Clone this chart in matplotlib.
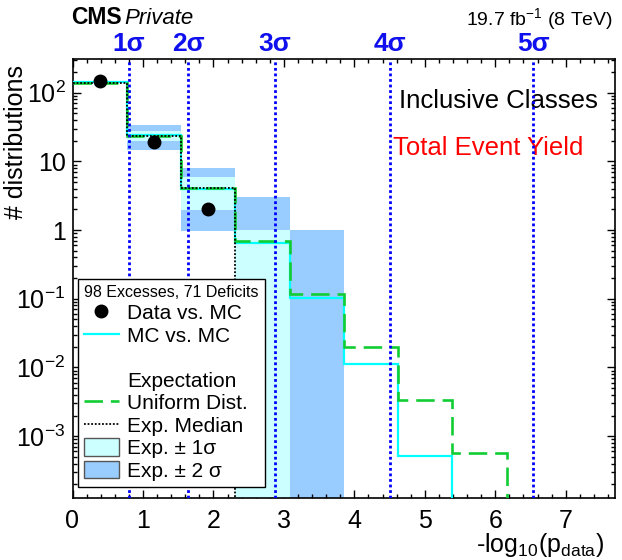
import numpy as np
import matplotlib
matplotlib.use("Agg")
import matplotlib.pyplot as plt
from matplotlib.lines import Line2D
from matplotlib.patches import Patch
from matplotlib.ticker import LogLocator, NullFormatter, MultipleLocator

plt.rcParams["font.family"] = ["Liberation Sans", "DejaVu Sans"]
plt.rcParams["mathtext.fontset"] = "custom"
plt.rcParams["mathtext.rm"] = "Liberation Sans"
plt.rcParams["mathtext.it"] = "Liberation Sans:italic"
plt.rcParams["mathtext.bf"] = "Liberation Sans:bold"
plt.rcParams["mathtext.default"] = "regular"

# -log10(p) binning
edges = [0.0, 0.77, 1.54, 2.31, 3.08, 3.85, 4.62, 5.39, 6.16, 6.93, 7.7]

# number of distributions per bin
data_counts = [148, 19, 2, 0, 0, 0, 0, 0, 0, 0]
mc_counts = [141, 24, 3.9, 0.64, 0.101, 0.0113, 0.00051, 0, 0, 0]
uniform_exp = [140, 23.8, 4.05, 0.687, 0.117, 0.0198, 0.0034, 0.00057, 0.0001, 0.000017]
exp_median = [140, 23.8, 4.05, 0, 0, 0, 0, 0, 0, 0]

# expectation bands
band1_lo = [140, 19.5, 1.95, 0, 0, 0, 0, 0, 0, 0]
band1_hi = [140, 28, 5.97, 1.0, 0, 0, 0, 0, 0, 0]
band2_lo = [140, 14.8, 0.98, 0, 0, 0, 0, 0, 0, 0]
band2_hi = [140, 33.4, 8.07, 2.99, 1.0, 0, 0, 0, 0, 0]

# one-sided significance thresholds in -log10(p)
sigma_names = ["1σ", "2σ", "3σ", "4σ", "5σ"]
sigma_pos = [0.80, 1.64, 2.87, 4.50, 6.54]

FLOOR = 1e-9


def floored(v):
    v = np.asarray(v, dtype=float)
    return np.where(v > 0, v, FLOOR)


fig = plt.figure(figsize=(6.22, 5.6), dpi=100)
ax = fig.add_axes([72.5 / 622, 62 / 560, 542.5 / 622, 438.7 / 560])

e = np.asarray(edges)
width = np.diff(e)
lo2, hi2 = floored(band2_lo), floored(band2_hi)
lo1, hi1 = floored(band1_lo), floored(band1_hi)
ax.bar(e[:-1], hi2 - lo2, bottom=lo2, width=width, align="edge",
       color="#99ccff", linewidth=0, zorder=1)
ax.bar(e[:-1], hi1 - lo1, bottom=lo1, width=width, align="edge",
       color="#ccffff", linewidth=0, zorder=2)

ax.stairs(floored(mc_counts), e, baseline=None, color="#00ffff", lw=1.6, zorder=3)
ax.stairs(floored(uniform_exp), e, baseline=None, color="#11cc33", lw=1.9,
          linestyle=(0, (7, 3)), zorder=4)
ax.stairs(floored(exp_median), e, baseline=None, color="black", lw=1.3,
          linestyle=(0, (1, 1)), zorder=5)

centers = 0.5 * (e[:-1] + e[1:])
dc = np.asarray(data_counts, dtype=float)
ax.plot(centers[dc > 0], dc[dc > 0], "o", color="black", ms=9, zorder=7)

for name, xpos in zip(sigma_names, sigma_pos):
    ax.axvline(xpos, color="#0000ff", lw=2.0, linestyle=(0, (1, 1)), zorder=6)
    ax.text(xpos, 1.036, name, transform=ax.get_xaxis_transform(), ha="center",
            va="center", color="#1010ee", fontsize=19, fontweight="bold")

ax.set_yscale("log")
ax.set_xlim(0, 7.7)
ax.set_ylim(1.26e-4, 306)
ax.set_yticks([1e-3, 1e-2, 1e-1, 1, 10, 100])
ax.set_yticklabels([r"$10^{-3}$", r"$10^{-2}$", r"$10^{-1}$", "1", "10", r"$10^{2}$"])
ax.yaxis.set_minor_locator(LogLocator(base=10, subs=np.arange(2, 10)))
ax.yaxis.set_minor_formatter(NullFormatter())
ax.xaxis.set_major_locator(MultipleLocator(1))
ax.xaxis.set_minor_locator(MultipleLocator(0.2))
ax.tick_params(which="both", direction="in", top=True, right=True, labelsize=18)
ax.tick_params(which="major", length=6, width=1)
ax.tick_params(which="minor", length=3, width=1)
ax.tick_params(axis="x", pad=8)
ax.tick_params(axis="y", pad=5)
for s in ax.spines.values():
    s.set_linewidth(1.2)

ax.text(0.969, 0.906, "Inclusive Classes", transform=ax.transAxes, ha="right",
        va="center", fontsize=18.5)
ax.text(0.941, 0.798, "Total Event Yield", transform=ax.transAxes, ha="right",
        va="center", fontsize=18.5, color="red")

handles = [
    Line2D([], [], marker="o", color="black", linestyle="none", ms=9),
    Line2D([], [], color="#00ffff", lw=1.6),
    Line2D([], [], color="none"),
    Line2D([], [], color="none"),
    Line2D([], [], color="#11cc33", lw=1.9, linestyle=(0, (7, 3))),
    Line2D([], [], color="black", lw=1.3, linestyle=(0, (1, 1))),
    Patch(facecolor="#ccffff", edgecolor="#555555", lw=1),
    Patch(facecolor="#99ccff", edgecolor="#555555", lw=1),
]
labels = ["Data vs. MC", "MC vs. MC", " ", "Expectation", "Uniform Dist.",
          "Exp. Median", "Exp. ± 1σ", "Exp. ± 2 σ"]
leg = ax.legend(handles, labels, loc="lower left",
                bbox_to_anchor=(0.0101, 0.025), fontsize=15,
                title="98 Excesses, 71 Deficits", title_fontsize=11.5,
                alignment="left", frameon=True, fancybox=False,
                edgecolor="black", framealpha=1, borderpad=0.3,
                labelspacing=0.13, handlelength=1.65, handletextpad=0.4,
                handleheight=0.9, borderaxespad=0)
leg.get_frame().set_linewidth(1)
leg.set_zorder(10)

fig.text(71 / 622, 1 - 18 / 560, "CMS", fontsize=16.5, fontweight="bold",
         ha="left", va="center")
fig.text(124 / 622, 1 - 18 / 560, "Private", fontsize=16, fontstyle="italic",
         ha="left", va="center")
fig.text(613 / 622, 1 - 19 / 560, r"19.7 fb$^{-1}$ (8 TeV)", fontsize=14,
         ha="right", va="center")
fig.text(16 / 622, 1 - 65 / 560, "# distributions", rotation=90, fontsize=18,
         ha="center", va="top")
fig.text(604 / 622, 1 - 545 / 560, r"-log$_{10}$(p$_{data}$)", fontsize=18,
         ha="right", va="center")

fig.savefig("out.png", dpi=100)
